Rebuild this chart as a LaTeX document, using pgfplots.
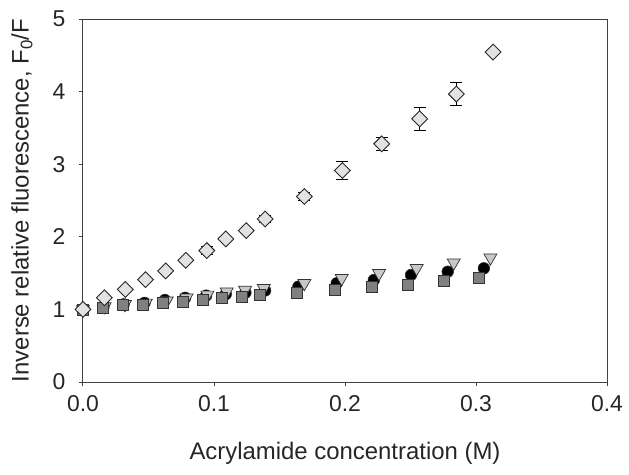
\documentclass[border=0pt]{standalone}
\usepackage{fontspec}
\setmainfont{Liberation Sans}
\usepackage{pgfplots}
\pgfplotsset{compat=1.18}
\definecolor{axgray}{HTML}{404040}
\definecolor{dfill}{HTML}{E2E2E2}
\definecolor{sfill}{HTML}{808080}
\definecolor{tfill}{HTML}{C8C8C8}
\begin{document}
\begin{tikzpicture}
\begin{axis}[
  at={(0,0)}, anchor=south west,
  scale only axis, width=524bp, height=363bp,
  xmin=0, xmax=0.4, ymin=0, ymax=5,
  xtick={0,0.1,0.2,0.3,0.4}, ytick={0,1,2,3,4,5},
  xticklabel style={/pgf/number format/fixed, /pgf/number format/fixed zerofill, /pgf/number format/precision=1},
  /pgf/number format/assume math mode=true,
  tick label style={font=\fontsize{23}{27}\selectfont, text=black!85},
  label style={font=\fontsize{24}{28}\selectfont, text=black!85},
  axis line style={axgray, line width=1bp},
  tick style={axgray, line width=1bp},
  tick align=outside, major tick length=4bp,
  xtick pos=bottom, ytick pos=left,
  xlabel={Acrylamide concentration (M)},
  ylabel={Inverse relative fluorescence, F\textsubscript{0}/F},
  xlabel style={at={(axis description cs:0.5,0)}, anchor=center, yshift=-71bp},
  ylabel style={at={(axis description cs:-0.1164,0.5)}, anchor=center},
  xticklabel style={yshift=-6bp},
  yticklabel style={xshift=-10bp},
  clip=false,
]
% circles
\addplot[only marks, mark=*, mark size=5.8bp, mark options={fill=black, draw=black!80, line width=0.6bp}] coordinates {
(0,1.0) (0.0156,1.03) (0.031,1.07) (0.047,1.09) (0.0625,1.13) (0.078,1.16) (0.094,1.19) (0.109,1.21) (0.124,1.23) (0.139,1.26)
(0.1644,1.313) (0.1937,1.36) (0.222,1.405) (0.2504,1.474) (0.2784,1.519) (0.306,1.566)};
% triangles
\addplot[only marks, mark=triangle*, mark size=7.5bp, mark options={rotate=180, fill=tfill, draw=black!80, line width=0.7bp}] coordinates {
(0,1.0) (0.0165,1.04) (0.032,1.07) (0.048,1.09) (0.064,1.12) (0.079,1.16) (0.095,1.2) (0.1097,1.244) (0.1237,1.267) (0.138,1.29)
(0.169,1.36) (0.1975,1.428) (0.226,1.497) (0.2547,1.566) (0.283,1.643) (0.311,1.712)};
% squares
\addplot[only marks, mark=square*, mark size=5.5bp, mark options={fill=sfill, draw=black!80, line width=0.7bp}] coordinates {
(0,1.0) (0.015,1.02) (0.0308,1.06) (0.046,1.06) (0.0613,1.084) (0.0766,1.106) (0.0914,1.13) (0.106,1.153) (0.1212,1.175) (0.135,1.198)
(0.1636,1.225) (0.192,1.272) (0.2204,1.313) (0.2479,1.345) (0.2756,1.391) (0.3025,1.428)};
% diamonds
\addplot[only marks, mark=square*, mark size=5.6bp, mark options={rotate=45, fill=dfill, draw=black!85, line width=0.9bp},
  error bars/.cd, y dir=both, y explicit, error bar style={black, line width=1bp},
  error mark options={rotate=90, mark size=6bp, line width=1bp, black}] coordinates {
(0,1.0) +- (0,0.02) (0.0163,1.161) +- (0,0.03) (0.0323,1.275) +- (0,0.02) (0.0477,1.41) +- (0,0.02) (0.0631,1.53) +- (0,0.03)
(0.0785,1.676) +- (0,0.02) (0.0945,1.81) +- (0,0.06) (0.109,1.97) +- (0,0.04) (0.1246,2.085) +- (0,0.03) (0.139,2.245) +- (0,0.05)
(0.169,2.555) +- (0,0.05) (0.198,2.914) +- (0,0.12) (0.228,3.28) +- (0,0.085) (0.257,3.625) +- (0,0.155) (0.285,3.966) +- (0,0.16) (0.313,4.545) +- (0,0.02)};
\end{axis}
\pgfresetboundingbox
\path[use as bounding box] (-83bp,-93bp) rectangle (546bp,382bp);
\end{tikzpicture}
\end{document}
